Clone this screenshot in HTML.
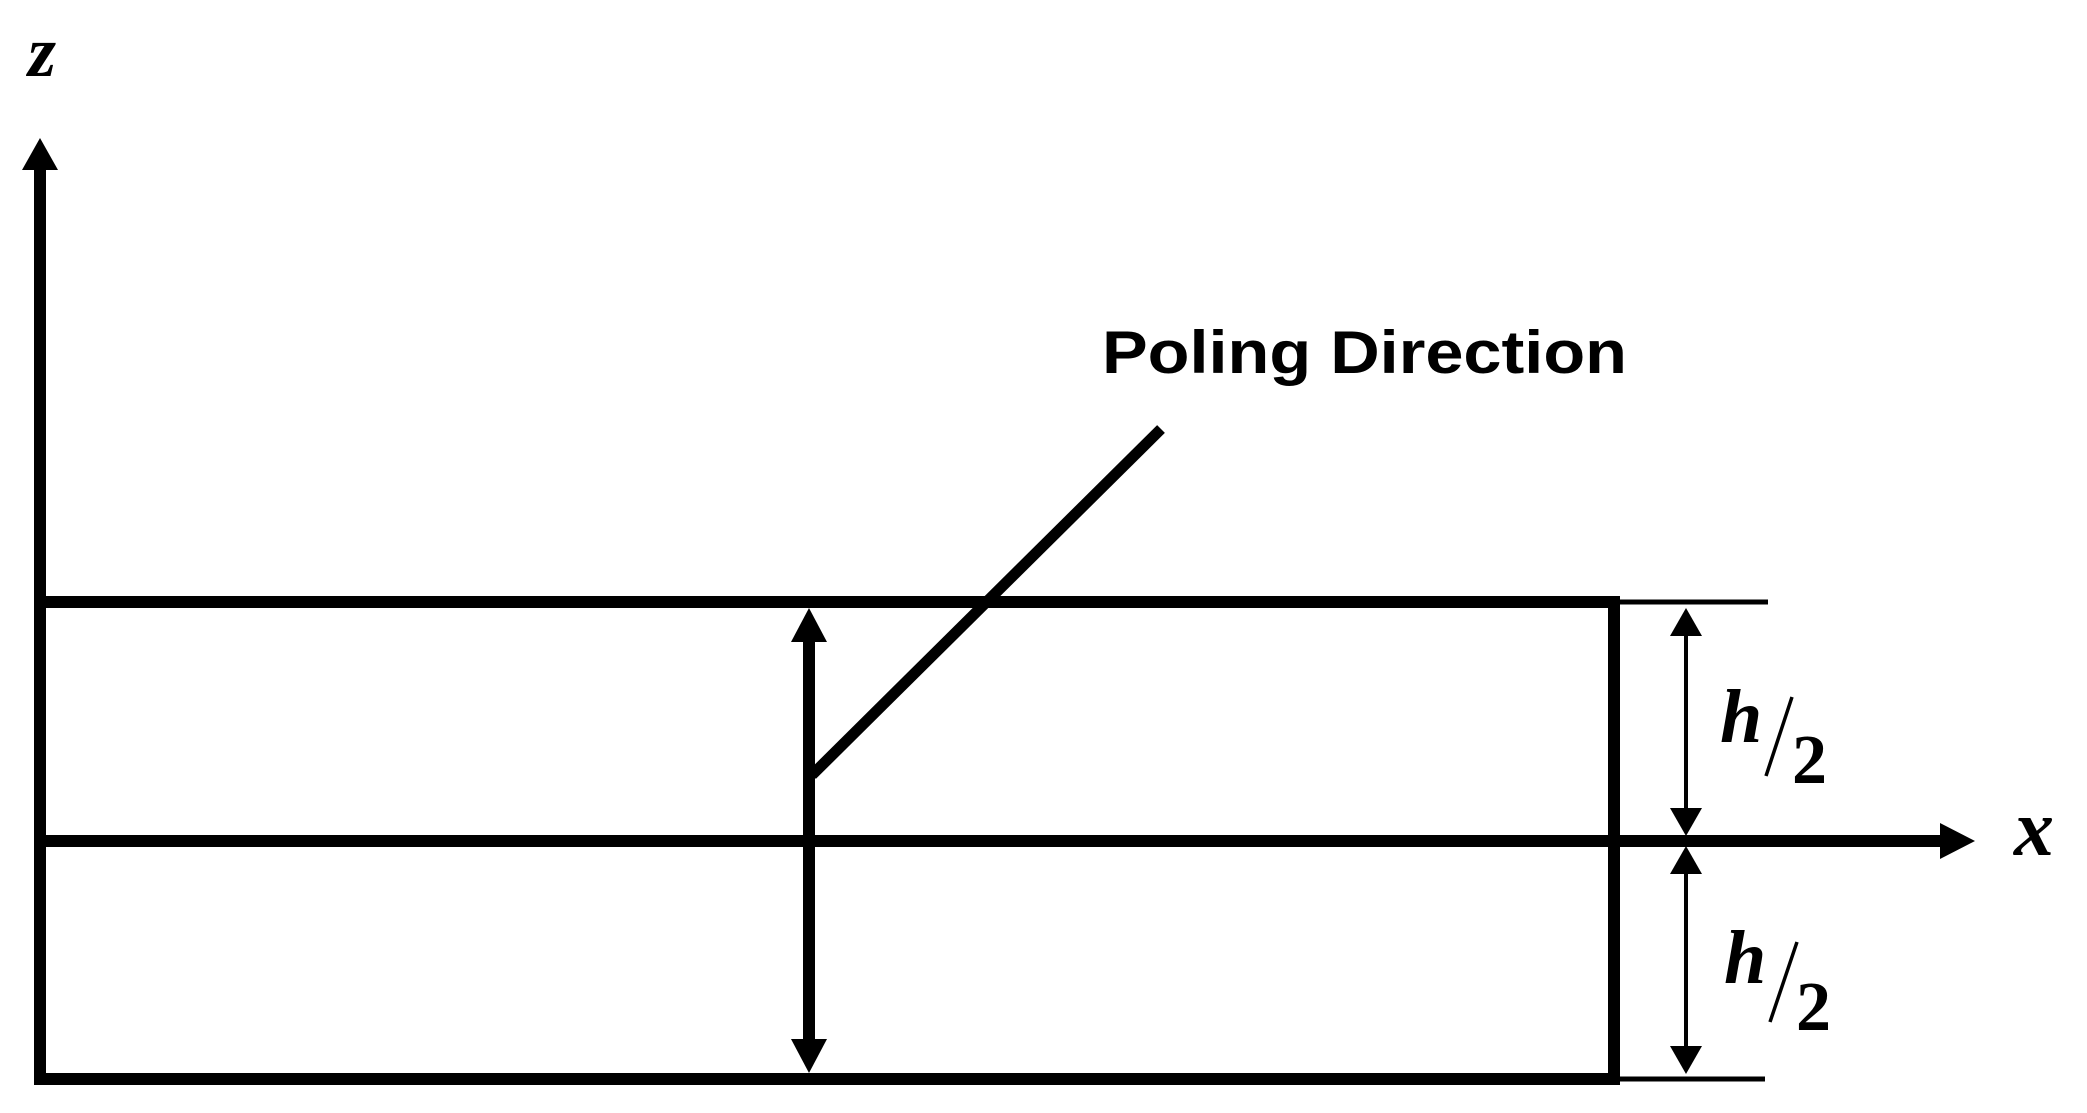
<!DOCTYPE html>
<html><head><meta charset="utf-8"><style>html,body{margin:0;padding:0;background:#fff}svg{display:block}</style></head>
<body>
<svg width="2087" height="1113" viewBox="0 0 2087 1113" xmlns="http://www.w3.org/2000/svg">
<g stroke="#000" fill="none" stroke-linecap="butt">
<line x1="40" y1="168" x2="40" y2="1085" stroke-width="12"/>
<line x1="34" y1="602" x2="1620" y2="602" stroke-width="12"/>
<line x1="1620" y1="602" x2="1768" y2="602" stroke-width="5"/>
<line x1="34" y1="841" x2="1945" y2="841" stroke-width="12"/>
<line x1="34" y1="1079" x2="1620" y2="1079" stroke-width="12"/>
<line x1="1620" y1="1079" x2="1765" y2="1079" stroke-width="5"/>
<line x1="1614" y1="596" x2="1614" y2="1085" stroke-width="12"/>
<line x1="809" y1="640" x2="809" y2="1045" stroke-width="12"/>
<line x1="812" y1="775" x2="1161" y2="429" stroke-width="11"/>
<line x1="1686" y1="630" x2="1686" y2="815" stroke-width="4"/>
<line x1="1686" y1="867" x2="1686" y2="1054" stroke-width="4"/>
</g>
<g fill="#000">
<polygon points="40,138 22,170 58,170"/>
<polygon points="1975,841 1940,823 1940,859"/>
<polygon points="809,608 791,642 827,642"/>
<polygon points="809,1073 791,1039 827,1039"/>
<polygon points="1686,608 1670,636 1702,636"/>
<polygon points="1686,836 1670,808 1702,808"/>
<polygon points="1686,846 1670,874 1702,874"/>
<polygon points="1686,1074 1670,1046 1702,1046"/>
</g>
<g font-family="'Liberation Serif', serif" font-style="italic" font-weight="bold" fill="#000">
<text x="28" y="76" font-size="72">z</text>
<text x="2014" y="855" font-size="80">x</text>
<text x="1720" y="742" font-size="76">h</text>
<text x="1724" y="983" font-size="76">h</text>
</g>
<g font-family="'Liberation Serif', serif" font-weight="bold" fill="#000">
<text x="1792" y="783" font-size="70">2</text>
<text x="1796" y="1030" font-size="70">2</text>
</g>
<g stroke="#000" stroke-width="3.5">
<line x1="1792" y1="697" x2="1766" y2="776"/>
<line x1="1797" y1="942" x2="1770" y2="1022"/>
</g>
<text x="1102" y="373" font-family="'Liberation Sans', sans-serif" font-weight="bold" font-size="60" textLength="525" lengthAdjust="spacingAndGlyphs" fill="#000">Poling Direction</text>
</svg>
</body></html>
